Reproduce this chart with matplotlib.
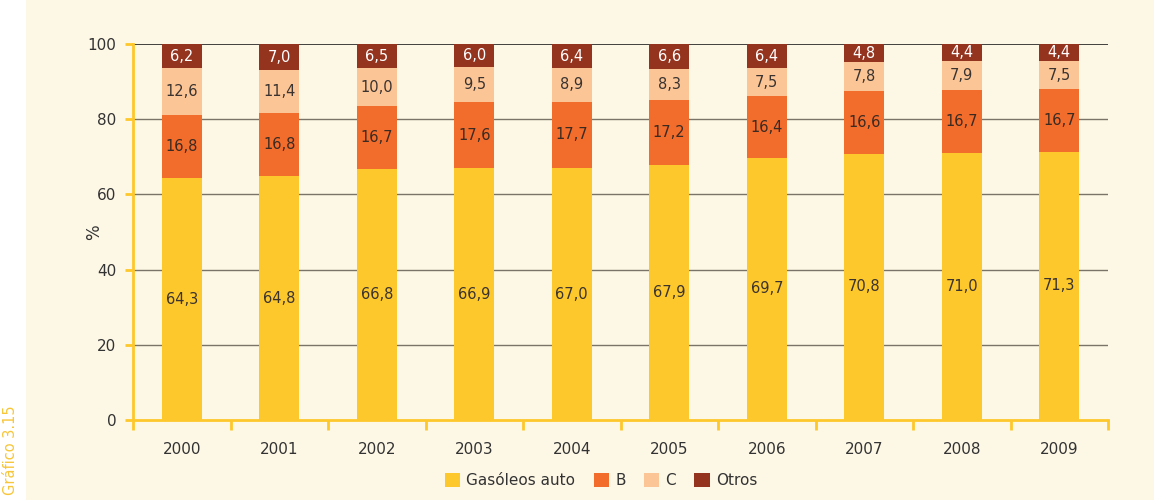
import matplotlib.pyplot as plt
from matplotlib.patches import Rectangle
from matplotlib import font_manager
import numpy as np

years = ["2000", "2001", "2002", "2003", "2004", "2005", "2006", "2007", "2008", "2009"]
gasoleos = [64.3, 64.8, 66.8, 66.9, 67.0, 67.9, 69.7, 70.8, 71.0, 71.3]
b_vals = [16.8, 16.8, 16.7, 17.6, 17.7, 17.2, 16.4, 16.6, 16.7, 16.7]
c_vals = [12.6, 11.4, 10.0, 9.5, 8.9, 8.3, 7.5, 7.8, 7.9, 7.5]
otros = [6.2, 7.0, 6.5, 6.0, 6.4, 6.6, 6.4, 4.8, 4.4, 4.4]

series = [("Gasóleos auto", gasoleos, "#FDC82B", "#3a3330"),
          ("B", b_vals, "#F26C2C", "#3a2a22"),
          ("C", c_vals, "#FBC596", "#3a3330"),
          ("Otros", otros, "#94341F", "#ffffff")]

names = {f.name for f in font_manager.fontManager.ttflist}
fam = "Liberation Sans Narrow" if "Liberation Sans Narrow" in names else "DejaVu Sans"
plt.rcParams["font.family"] = [fam, "DejaVu Sans"]

bg = "#FDF7E5"
fig = plt.figure(figsize=(11.54, 5), dpi=100, facecolor=bg)
fig.patches.append(Rectangle((0, 0), 26 / 1154, 1, transform=fig.transFigure,
                             facecolor="white", edgecolor="none", zorder=0))
fig.text(11 / 1154, 0.01, "Gráfico 3.15", rotation=90, color="#F7C63A",
         fontsize=10.5, family="DejaVu Sans", ha="center", va="bottom")

ax = fig.add_axes([133 / 1154, 80 / 500, 975 / 1154, 376 / 500])
ax.set_facecolor(bg)

x = np.arange(len(years))
bottom = np.zeros(len(years))
for label, vals, col, tcol in series:
    vals = np.array(vals)
    ax.bar(x, vals, 0.41, bottom=bottom, color=col, label=label, zorder=3)
    for xi, b, v in zip(x, bottom, vals):
        ax.text(xi, b + v / 2, f"{v:.1f}".replace(".", ","), ha="center", va="center",
                color=tcol, fontsize=10.5, zorder=4)
    bottom += vals

ax.set_xlim(-0.5, len(years) - 0.5)
ax.set_ylim(0, 100)
ax.set_yticks([0, 20, 40, 60, 80, 100])
for yv in [20, 40, 60, 80]:
    ax.axhline(yv, color="#7a7468", lw=1, zorder=1)
ax.axhline(100, color="#222222", lw=1.2, zorder=1)

ax.set_xticks(x)
ax.set_xticklabels(years)
ax.set_xticks(np.arange(-0.5, len(years)), minor=True)
ax.tick_params(axis="x", which="major", length=0, pad=16, labelsize=11, labelcolor="#333333")
ax.tick_params(axis="x", which="minor", length=7, width=2, color="#FDC82B", direction="out")
ax.tick_params(axis="y", length=6, width=2, color="#FDC82B", labelsize=11, labelcolor="#333333", pad=6)

for s in ["top", "right"]:
    ax.spines[s].set_visible(False)
ax.spines["left"].set_color("#FDC82B")
ax.spines["left"].set_linewidth(2)
ax.spines["bottom"].set_color("#FDC82B")
ax.spines["bottom"].set_linewidth(2)
ax.set_ylabel("%", fontsize=12, color="#333333")
ax.yaxis.set_label_coords(-30 / 975, 0.5)

ax.legend(loc="upper center", bbox_to_anchor=(0.48, -0.105), ncol=4, frameon=False,
          fontsize=11, handlelength=1.0, handleheight=1.0, handletextpad=0.4,
          columnspacing=1.2, labelcolor="#333333")

fig.savefig("out.png", dpi=100, facecolor=bg)
